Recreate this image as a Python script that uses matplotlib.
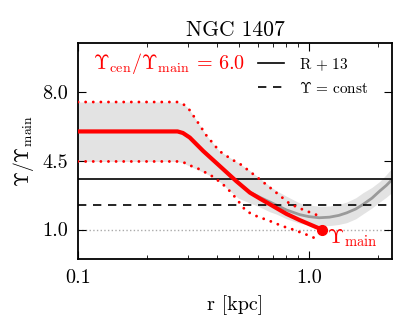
import numpy as np
import matplotlib
matplotlib.use("Agg")
import matplotlib.pyplot as plt

plt.rcParams["font.family"] = "serif"
plt.rcParams["font.serif"] = ["cmr10", "DejaVu Serif"]
plt.rcParams["mathtext.fontset"] = "cm"
plt.rcParams["axes.formatter.use_mathtext"] = True

# main profile (red) and R+13 profile (grey)
r_main = [0.1, 0.27, 0.285, 0.305, 0.349, 0.412, 0.485, 0.556, 0.62, 0.68, 0.80, 0.914, 1.03, 1.14]
y_main = [6.0, 6.0, 5.92, 5.69, 5.0, 4.23, 3.47, 2.88, 2.55, 2.28, 1.80, 1.48, 1.22, 1.0]

r_up = [0.1, 0.27, 0.285, 0.30, 0.327, 0.36, 0.41, 0.46, 0.51, 0.60, 0.72, 0.83, 0.95, 1.08]
y_up = [7.5, 7.5, 7.4, 7.2, 6.55, 5.8, 5.0, 4.6, 4.3, 3.65, 2.9, 2.3, 2.0, 1.75]

r_lo = [0.1, 0.27, 0.29, 0.305, 0.337, 0.385, 0.425, 0.462, 0.495, 0.535, 0.595, 0.68, 0.77, 0.855, 0.978, 1.10]
y_lo = [4.47, 4.47, 4.4, 4.27, 4.07, 3.69, 3.30, 2.88, 2.45, 1.94, 1.68, 1.43, 1.17, 1.0, 0.74, 0.49]

r_grey = [0.1, 0.27, 0.285, 0.305, 0.349, 0.412, 0.485, 0.556, 0.62, 0.68, 0.80, 0.914, 1.0, 1.11, 1.23, 1.35, 1.46, 1.6, 1.72, 1.88, 2.03, 2.17, 2.3]
y_grey = [6.0, 6.0, 5.92, 5.69, 5.0, 4.23, 3.47, 2.9, 2.62, 2.4, 2.0, 1.76, 1.66, 1.60, 1.63, 1.72, 1.85, 2.05, 2.28, 2.6, 2.96, 3.25, 3.55]

r_band = [0.1, 0.27, 0.285, 0.30, 0.327, 0.36, 0.41, 0.495, 0.556, 0.60, 0.68, 0.72, 0.80, 0.914, 1.0, 1.11, 1.23, 1.35, 1.46, 1.6, 1.72, 1.88, 2.03, 2.17, 2.3]
band_hi = [7.5, 7.5, 7.4, 7.2, 6.55, 5.8, 5.0, 4.4, 4.0, 3.7, 3.2, 3.0, 2.7, 2.35, 2.25, 2.19, 2.2, 2.28, 2.4, 2.62, 2.88, 3.15, 3.45, 3.8, 4.15]
band_lo = [4.47, 4.47, 4.4, 4.27, 4.07, 3.85, 3.45, 2.6, 2.35, 2.2, 1.9, 1.8, 1.55, 1.32, 1.24, 1.2, 1.2, 1.26, 1.35, 1.55, 1.8, 2.1, 2.4, 2.65, 2.9]

y_r13 = 3.6
y_const = 2.26
ratio = 6.0

fig = plt.figure(figsize=(4.15, 3.32), dpi=100)
ax = fig.add_axes([0.188, 0.22, 0.757, 0.65])

dots = (0, (0.01, 2.6))
ax.fill_between(r_band, band_lo, band_hi, color="#e3e3e3", lw=0, zorder=1)
ax.plot(r_grey, y_grey, color="#9a9a9a", lw=2, zorder=2)
ax.axhline(1.0, color="#aaaaaa", lw=1, ls=":", zorder=1)
ax.axhline(y_r13, color="k", lw=1.2, ls="-", label=r"$\mathrm{R}\,+\,13$", zorder=3)
ax.axhline(y_const, color="k", lw=1.2, ls=(0, (5, 4)), label=r"$\Upsilon\,=\,\mathrm{const}$", zorder=3)
ax.plot(r_up, y_up, color="red", lw=2.1, ls=dots, dash_capstyle="round", zorder=4)
ax.plot(r_lo, y_lo, color="red", lw=2.1, ls=dots, dash_capstyle="round", zorder=4)
ax.plot(r_main, y_main, color="red", lw=3, solid_joinstyle="round", zorder=5)
ax.plot(r_main[-1], y_main[-1], "o", color="red", ms=7, zorder=6)
ax.annotate(r"$\Upsilon_{\rm main}$", (r_main[-1], y_main[-1]), xytext=(4, -6),
            textcoords="offset points", color="red", fontsize=15, va="center", ha="left")

ax.text(0.048, 0.905, r"$\Upsilon_{\rm cen}/\Upsilon_{\rm main}\,=\,%.1f$" % ratio,
        transform=ax.transAxes, color="red", fontsize=14.5, va="center", ha="left")

ax.set_xscale("log")
ax.set_xlim(0.1, 2.3)
ax.set_ylim(-0.5, 10.5)
ax.set_xticks([0.1, 1.0])
ax.set_xticklabels(["0.1", "1.0"])
ax.set_yticks([1.0, 4.5, 8.0])
ax.set_yticklabels(["1.0", "4.5", "8.0"])
ax.tick_params(which="both", direction="in", top=True, right=True, labelsize=14.5)
ax.tick_params(which="major", length=6, width=0.8, pad=7)
ax.tick_params(which="minor", length=3, width=0.6)
ax.set_xlabel("r [kpc]", fontsize=14.5, labelpad=6)
ax.set_ylabel(r"$\Upsilon/\Upsilon_{\rm main}$", fontsize=14, labelpad=5)
ax.set_title("NGC 1407", fontsize=15.5, pad=5)
for s in ax.spines.values():
    s.set_linewidth(1.3)

ax.legend(loc="upper right", frameon=False, fontsize=11, handlelength=1.7,
          handletextpad=1.0, labelspacing=0.45,
          borderaxespad=0.3, bbox_to_anchor=(0.96, 0.99))

fig.savefig("out.png", dpi=100)
